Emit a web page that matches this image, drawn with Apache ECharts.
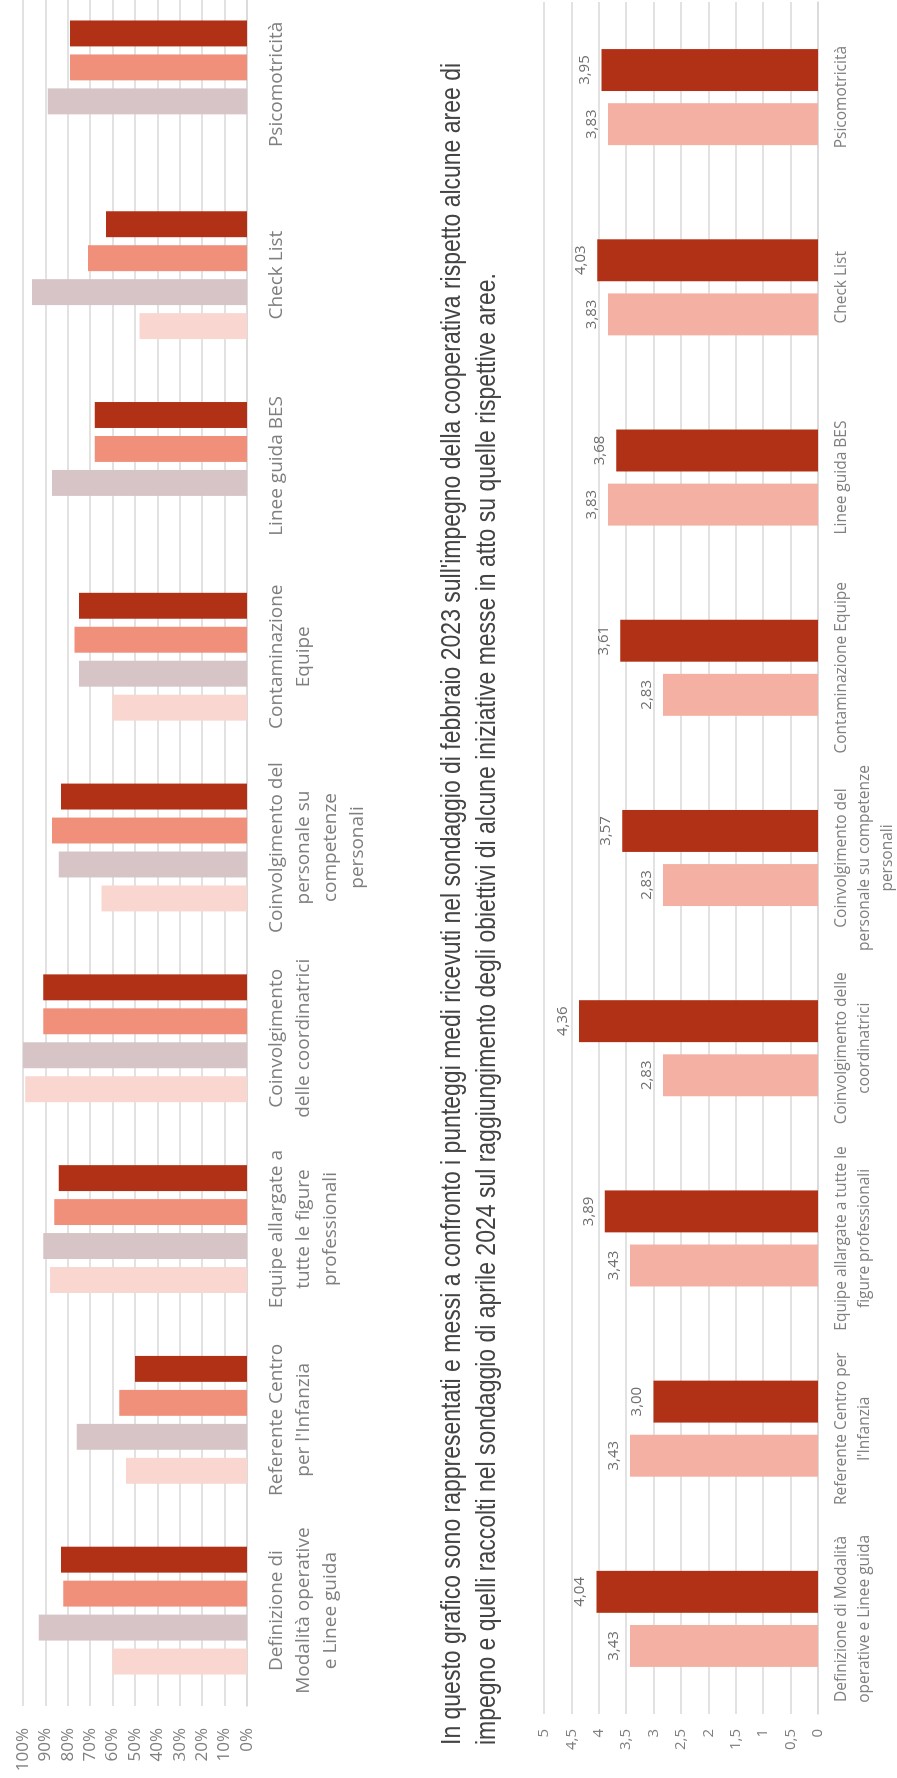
<!DOCTYPE html>
<html>
<head>
<meta charset="utf-8">
<script src="https://cdn.jsdelivr.net/npm/echarts@6/dist/echarts.min.js"></script>
<style>
html,body{margin:0;padding:0;background:#fff;overflow:hidden;width:897px;height:1778px;}
#land{position:absolute;left:0;top:0;width:1778px;height:897px;transform-origin:0 0;transform:translateY(1778px) rotate(-90deg);background:#fff;}
#chart{position:absolute;left:0;top:0;width:1778px;height:897px;}
#para{position:absolute;left:33px;top:433px;font-family:'Liberation Sans Narrow','Arial Narrow','Liberation Sans',sans-serif;font-size:28px;line-height:35px;color:#444;white-space:nowrap;transform-origin:0 0;}
</style>
</head>
<body>
<div id="land">
  <div id="chart"></div>
  <div id="para"><span id="l1">In questo grafico sono rappresentati e messi a confronto i punteggi medi ricevuti nel sondaggio di febbraio 2023 sull'impegno della cooperativa rispetto alcune aree di</span><br><span id="l2">impegno e quelli raccolti nel sondaggio di aprile 2024 sul raggiungimento degli obiettivi di alcune iniziative messe in atto su quelle rispettive aree.</span></div>
</div>
<script>
// ---- data ----
const categories = [
  "Definizione di Modalità operative e Linee guida",
  "Referente Centro per l'Infanzia",
  "Equipe allargate a tutte le figure professionali",
  "Coinvolgimento delle coordinatrici",
  "Coinvolgimento del personale su competenze personali",
  "Contaminazione Equipe",
  "Linee guida BES",
  "Check List",
  "Psicomotricità"
];
const topLabels = [
  "Definizione di\nModalità operative\ne Linee guida",
  "Referente Centro\nper l'Infanzia",
  "Equipe allargate a\ntutte le figure\nprofessionali",
  "Coinvolgimento\ndelle coordinatrici",
  "Coinvolgimento del\npersonale su\ncompetenze\npersonali",
  "Contaminazione\nEquipe",
  "Linee guida BES",
  "Check List",
  "Psicomotricità"
];
const bottomLabels = [
  "Definizione di Modalità\noperative e Linee guida",
  "Referente Centro per\nl'Infanzia",
  "Equipe allargate a tutte le\nfigure professionali",
  "Coinvolgimento delle\ncoordinatrici",
  "Coinvolgimento del\npersonale su competenze\npersonali",
  "Contaminazione Equipe",
  "Linee guida BES",
  "Check List",
  "Psicomotricità"
];
const pctSerie1 = [0.60, 0.54, 0.88, 0.99, 0.65, 0.60, null, 0.48, null];
const pctSerie2 = [0.93, 0.76, 0.91, 1.00, 0.84, 0.75, 0.87, 0.96, 0.89];
const pctSerie3 = [0.82, 0.57, 0.86, 0.91, 0.87, 0.77, 0.68, 0.71, 0.79];
const pctSerie4 = [0.83, 0.50, 0.84, 0.91, 0.83, 0.75, 0.68, 0.63, 0.79];
const score2023 = [3.43, 3.43, 3.43, 2.83, 2.83, 2.83, 3.83, 3.83, 3.83];
const score2024 = [4.04, 3.00, 3.89, 4.36, 3.57, 3.61, 3.68, 4.03, 3.95];

// ---- chart ----
const chart = echarts.init(document.getElementById('chart'), null, {renderer:'canvas'});
const grid = {color:'#d9d9d9', width:1.5};
const catFont = "'Open Sans', sans-serif";
const valueLabel = {show:true, position:'top', distance:9, fontSize:15, color:'#6f6f6f', fontFamily:catFont,
  formatter:p=>p.value.toFixed(2).replace('.',',')};
const option = {
  animation:false,
  textStyle:{fontFamily:catFont},
  grid:[
    {left:72, right:-11, top:23, height:224, containLabel:false, outerBoundsMode:'none'},
    {left:64, right:2, top:544, height:274, containLabel:false, outerBoundsMode:'none'}
  ],
  xAxis:[
    {type:'category', gridIndex:0, data:categories,
     axisTick:{show:false}, axisLine:{lineStyle:grid},
     axisLabel:{interval:0, margin:16, fontSize:19, lineHeight:27, color:'#7f7f7f', fontFamily:catFont,
       formatter:(v,i)=>topLabels[i]}},
    {type:'category', gridIndex:1, data:categories,
     axisTick:{show:false}, axisLine:{lineStyle:grid},
     axisLabel:{interval:0, margin:12, fontSize:15.5, lineHeight:23, color:'#808080', fontFamily:catFont,
       formatter:(v,i)=>bottomLabels[i]}}
  ],
  yAxis:[
    {type:'value', gridIndex:0, min:0, max:1, interval:0.1,
     axisLine:{show:false}, axisTick:{show:false},
     splitLine:{lineStyle:grid},
     axisLabel:{margin:22, fontSize:17, color:'#7f7f7f', fontFamily:catFont,
       formatter:v=>Math.round(v*100)+'%'}},
    {type:'value', gridIndex:1, min:0, max:5, interval:0.5,
     axisLine:{show:false}, axisTick:{show:false},
     splitLine:{lineStyle:grid},
     axisLabel:{margin:15, fontSize:15, color:'#808080', fontFamily:catFont,
       formatter:v=>String(v).replace('.',',')}}
  ],
  series:[
    {name:'Serie 1', type:'bar', xAxisIndex:0, yAxisIndex:0, data:pctSerie1, itemStyle:{color:'#f9d6d0'}, barGap:'31%', barCategoryGap:'33%'},
    {name:'Serie 2', type:'bar', xAxisIndex:0, yAxisIndex:0, data:pctSerie2, itemStyle:{color:'#d6c4c6'}},
    {name:'Serie 3', type:'bar', xAxisIndex:0, yAxisIndex:0, data:pctSerie3, itemStyle:{color:'#f0907a'}},
    {name:'Serie 4', type:'bar', xAxisIndex:0, yAxisIndex:0, data:pctSerie4, itemStyle:{color:'#b03115'}},
    {name:'Febbraio 2023', type:'bar', xAxisIndex:1, yAxisIndex:1, data:score2023, itemStyle:{color:'#f4b0a3'},
     barGap:'29%', barCategoryGap:'49.5%', label:valueLabel},
    {name:'Aprile 2024', type:'bar', xAxisIndex:1, yAxisIndex:1, data:score2024, itemStyle:{color:'#b03115'},
     label:valueLabel}
  ]
};
chart.setOption(option);

// fit paragraph width to the reference line length
const para = document.getElementById('para');
const natural = document.getElementById('l1').offsetWidth;
if (natural > 0) para.style.transform = 'scaleX(' + (1682 / natural) + ')';
</script>
</body>
</html>
